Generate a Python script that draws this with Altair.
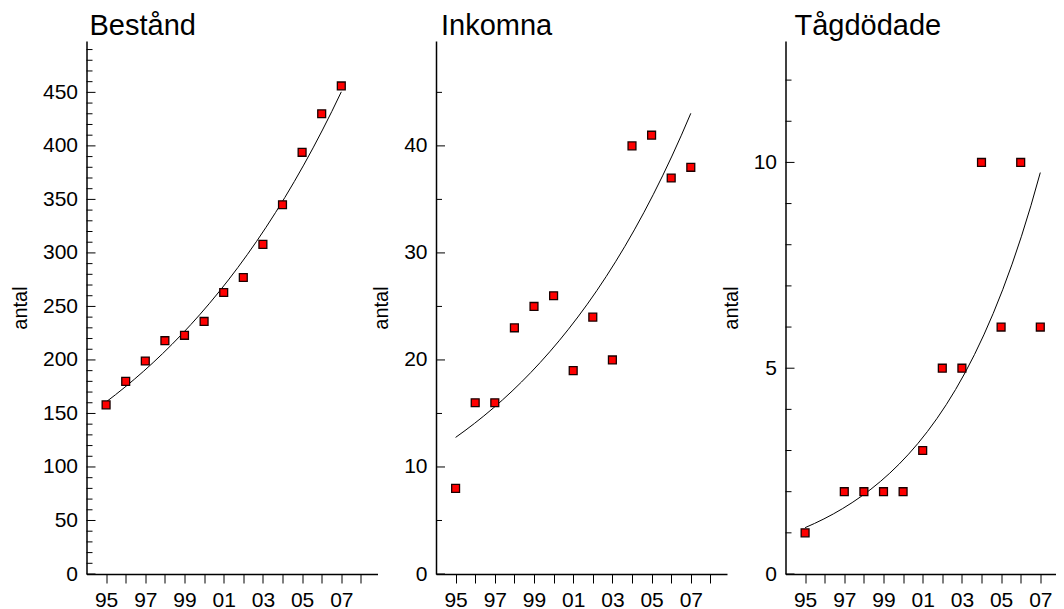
import altair as alt
import pandas as pd

# ---- data ----
years = list(range(1995, 2008))
bestand = [158, 180, 199, 218, 223, 236, 263, 277, 308, 345, 394, 430, 456]
inkomna = [8, 16, 16, 23, 25, 26, 19, 24, 20, 40, 41, 37, 38]
tagdodade = [1, None, 2, 2, 2, 2, 3, 5, 5, 10, 6, 10, 6]

titles = ["Bestånd", "Inkomna", "Tågdödade"]
series = [bestand, inkomna, tagdodade]
y_max = [498, 49.8, 12.95]
minor_step = [10, 5, 1]
major_step = [50, 10, 5]

# ---- style / layout ----
FONT = "Liberation Sans"
H = 533
PX_PER_YEAR = 19.6
widths = [291, 291, 270]
title_dx = [3, 5, 9]


def panel(i):
    df = pd.DataFrame({"year": years, "v": series[i]})
    ymax, minor, major = y_max[i], minor_step[i], major_step[i]
    w = widths[i]
    x_hi = 1994 + w / PX_PER_YEAR
    x_ticks = [y for y in range(1995, 2009) if y <= x_hi]
    yvals = [k * minor for k in range(int(ymax // minor) + 1)]
    major_vals = [v for v in yvals if v % major == 0]
    minor_vals = [v for v in yvals if v % major != 0]

    x_scale = alt.Scale(domain=[1994, x_hi], nice=False, zero=False)
    y_scale = alt.Scale(domain=[0, ymax], nice=False, zero=True)

    x_enc = alt.X(
        "year:Q", scale=x_scale,
        axis=alt.Axis(
            values=x_ticks,
            labelExpr="datum.value % 2 === 1 ? format(datum.value % 100, '02d') : ''",
            tickSize=9, tickWidth=1, tickColor="black",
            labelPadding=6, labelFont=FONT, labelFontSize=21, labelColor="black",
            domainColor="black", domainWidth=1.5,
            grid=False, title=None, labelFlush=False, labelOverlap=False,
        ),
    )
    y_axis = alt.Axis(
        values=major_vals, ticks=False,
        labelPadding=9, labelFont=FONT, labelFontSize=21, labelColor="black",
        domainColor="black", domainWidth=1.5,
        grid=False, labelFlush=False, labelOverlap=False,
        title="antal", titleFont=FONT, titleFontSize=20, titleFontWeight="normal",
        titleColor="black", titlePadding=12,
    )
    y_enc = alt.Y("v:Q", scale=y_scale, axis=y_axis)

    base = alt.Chart(df)
    fit = (
        base.transform_filter("isValid(datum.v) && datum.v > 0")
        .transform_calculate(ly="log(datum.v)")
        .transform_regression("year", "ly", method="poly", order=1, extent=[1995, 2007])
        .transform_calculate(v="exp(datum.ly)")
        .mark_line(color="black", strokeWidth=1)
        .encode(x=x_enc, y=y_enc)
    )
    pts = (
        base.transform_filter("isValid(datum.v)")
        .mark_point(shape="square", filled=True, fill="#ff0000", stroke="#1a0000",
                    strokeWidth=1.3, size=62, opacity=1)
        .encode(x=x_enc, y=y_enc)
    )
    # inward y ticks (major longer than minor), placed by the y scale
    maj = (
        alt.Chart(pd.DataFrame({"v": major_vals}))
        .mark_rule(color="black", strokeWidth=1)
        .encode(y=y_enc, x=alt.value(0), x2=alt.value(9))
    )
    mnr = (
        alt.Chart(pd.DataFrame({"v": minor_vals}))
        .mark_rule(color="black", strokeWidth=1)
        .encode(y=y_enc, x=alt.value(0), x2=alt.value(6))
    )
    return alt.layer(maj, mnr, fit, pts).properties(
        width=w, height=H,
        title=alt.TitleParams(
            titles[i], anchor="start", frame="group", dx=title_dx[i], offset=0,
            font=FONT, fontSize=29, fontWeight="normal", color="black",
        ),
    )


chart = (
    alt.hconcat(panel(0), panel(1), panel(2), spacing=58.5, bounds="flush")
    .properties(padding={"left": 1.5, "top": 4, "right": 0, "bottom": 0},
                background="white")
    .configure_view(stroke=None, strokeWidth=0)
)

chart.save("out.html", embed_options={"renderer": "svg", "actions": False})
